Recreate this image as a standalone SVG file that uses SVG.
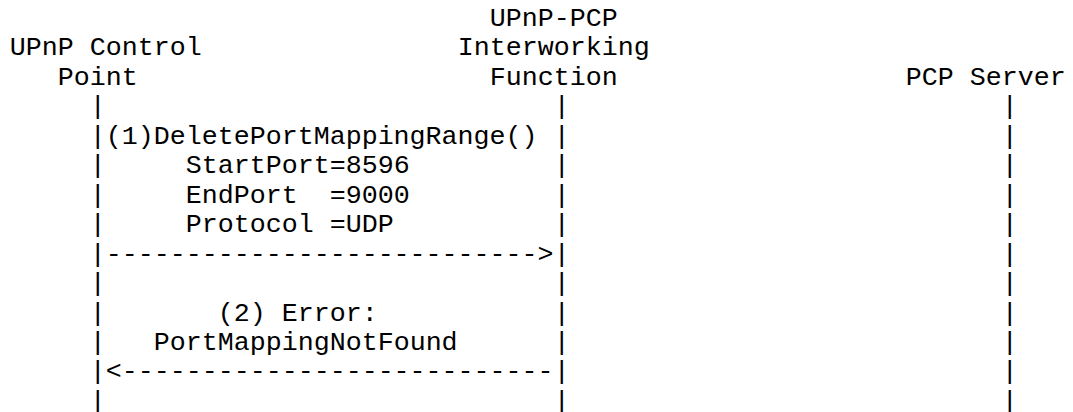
<svg xmlns="http://www.w3.org/2000/svg" width="1073" height="412" viewBox="0 0 1073 412">
<style>
text{font-family:"Liberation Mono","Courier New",monospace;font-size:26.67px;fill:#000;white-space:pre}
</style>
<rect width="1073" height="412" fill="#fff"/>
<g id="node-upnp-cp">
<text x="9.7" y="55.45">UPnP Control</text>
<text x="57.7" y="84.9">Point</text>
</g>
<g id="node-iwf">
<text x="489.7" y="26">UPnP-PCP</text>
<text x="457.7" y="55.45">Interworking</text>
<text x="489.7" y="84.9">Function</text>
</g>
<g id="node-pcp-server">
<text x="905.7" y="84.9">PCP Server</text>
</g>
<g id="connectors">
<g id="lifeline-cp">
<text x="89.7" y="114.35">|</text><text x="89.7" y="143.8">|</text><text x="89.7" y="173.25">|</text><text x="89.7" y="202.7">|</text><text x="89.7" y="232.15">|</text><text x="89.7" y="261.6">|</text><text x="89.7" y="291.05">|</text><text x="89.7" y="320.5">|</text><text x="89.7" y="349.95">|</text><text x="89.7" y="379.4">|</text><text x="89.7" y="408.85">|</text>
</g>
<g id="lifeline-iwf">
<text x="553.7" y="114.35">|</text><text x="553.7" y="143.8">|</text><text x="553.7" y="173.25">|</text><text x="553.7" y="202.7">|</text><text x="553.7" y="232.15">|</text><text x="553.7" y="261.6">|</text><text x="553.7" y="291.05">|</text><text x="553.7" y="320.5">|</text><text x="553.7" y="349.95">|</text><text x="553.7" y="379.4">|</text><text x="553.7" y="408.85">|</text>
</g>
<g id="lifeline-pcp">
<text x="1001.7" y="114.35">|</text><text x="1001.7" y="143.8">|</text><text x="1001.7" y="173.25">|</text><text x="1001.7" y="202.7">|</text><text x="1001.7" y="232.15">|</text><text x="1001.7" y="261.6">|</text><text x="1001.7" y="291.05">|</text><text x="1001.7" y="320.5">|</text><text x="1001.7" y="349.95">|</text><text x="1001.7" y="379.4">|</text><text x="1001.7" y="408.85">|</text>
</g>
<g id="msg-1">
<text x="105.7" y="143.8">(1)DeletePortMappingRange()</text>
<text x="185.7" y="173.25">StartPort=8596</text>
<text x="185.7" y="202.7">EndPort  =9000</text>
<text x="185.7" y="232.15">Protocol =UDP</text>
<text x="105.7" y="261.6">---------------------------&gt;</text>
</g>
<g id="msg-2">
<text x="217.7" y="320.5">(2) Error:</text>
<text x="153.7" y="349.95">PortMappingNotFound</text>
<text x="105.7" y="379.4">&lt;---------------------------</text>
</g>
</g>
</svg>
